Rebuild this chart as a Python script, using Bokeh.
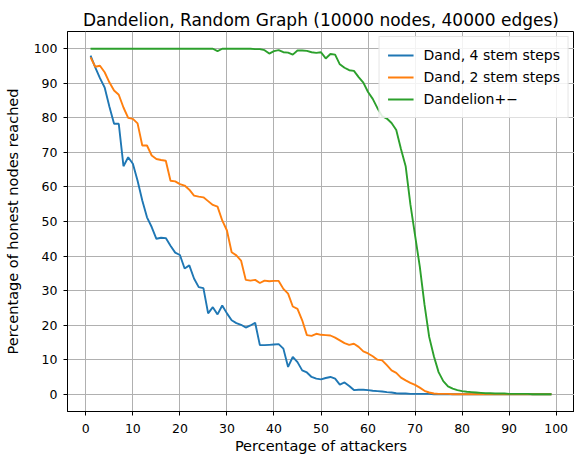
from bokeh.plotting import figure
from bokeh.embed import file_html
from bokeh.resources import INLINE
from bokeh.models import FixedTicker, Legend, LegendItem, ColumnDataSource

attackers = list(range(1, 100))

dand4 = [98.0, 94.6, 91.5, 88.8, 83.3, 78.3, 78.3, 66.0, 68.6, 66.7,
         61.8, 56.1, 51.2, 48.4, 45.0, 45.3, 45.2, 43.0, 41.0, 40.3,
         36.4, 37.3, 33.5, 31.0, 30.7, 23.4, 25.2, 23.1, 25.7, 23.4,
         21.4, 20.6, 20.1, 19.3, 19.9, 20.7, 14.2, 14.2, 14.3, 14.4,
         14.5, 13.2, 7.9, 10.8, 9.3, 6.9, 6.3, 5.0, 4.5, 4.3,
         4.7, 5.0, 4.5, 2.8, 3.4, 2.4, 1.2, 1.3, 1.3, 1.2,
         1.0, 0.9, 0.8, 0.6, 0.5, 0.3, 0.2, 0.2, 0.1, 0.1,
         0.1, 0.1, 0.1, 0.0, 0.0, 0.0, 0.0, 0.0, 0.0, 0.0,
         0.0, 0.0, 0.0, 0.0, 0.0, 0.0, 0.0, 0.0, 0.0, 0.0,
         0.0, 0.0, 0.0, 0.0, 0.0, 0.0, 0.0, 0.0, 0.0]

dand2 = [97.5, 94.8, 95.1, 93.2, 90.3, 87.9, 86.7, 83.0, 80.0, 79.7,
         78.4, 72.0, 72.0, 69.1, 68.1, 67.8, 67.6, 61.8, 61.6, 60.8,
         60.4, 59.2, 57.5, 57.2, 57.0, 55.9, 54.8, 54.3, 50.3, 47.4,
         41.1, 40.2, 38.7, 33.1, 32.9, 33.1, 32.2, 32.9, 32.7, 32.8,
         32.8, 30.5, 29.1, 25.4, 24.7, 21.4, 17.1, 16.9, 17.5, 17.2,
         17.1, 17.0, 16.4, 15.6, 14.8, 14.3, 14.6, 13.7, 12.4, 11.8,
         11.0, 10.0, 9.8, 8.4, 6.9, 6.2, 4.8, 4.0, 3.3, 2.7,
         1.9, 1.0, 0.5, 0.2, 0.1, 0.1, 0.1, 0.0, 0.0, 0.0,
         0.0, 0.0, 0.0, 0.0, 0.0, 0.0, 0.0, 0.0, 0.0, 0.0,
         0.0, 0.0, 0.0, 0.0, 0.0, 0.0, 0.0, 0.0, 0.0]

dandplus = [100.0, 100.0, 100.0, 100.0, 100.0, 100.0, 100.0, 100.0, 100.0, 100.0,
            100.0, 100.0, 100.0, 100.0, 100.0, 100.0, 100.0, 100.0, 100.0, 100.0,
            100.0, 100.0, 100.0, 100.0, 100.0, 100.0, 100.0, 99.3, 100.0, 100.0,
            100.0, 100.0, 100.0, 100.0, 100.0, 99.9, 99.9, 99.6, 98.6, 99.3,
            99.6, 99.0, 98.9, 98.3, 99.5, 99.5, 99.4, 99.0, 98.8, 99.0,
            97.2, 98.5, 98.3, 95.5, 94.5, 93.8, 93.6, 91.8, 90.2, 87.5,
            85.5, 82.8, 80.5, 79.8, 78.5, 76.5, 71.0, 66.0, 55.0, 46.0,
            37.0, 26.0, 16.6, 11.0, 6.4, 3.8, 2.3, 1.6, 1.2, 0.9,
            0.7, 0.6, 0.5, 0.4, 0.3, 0.3, 0.2, 0.2, 0.2, 0.1,
            0.1, 0.1, 0.1, 0.1, 0.0, 0.0, 0.0, 0.0, 0.0]

series_labels = ["Dand, 4 stem steps", "Dand, 2 stem steps", "Dandelion+\u2212"]
series_colors = ["#1f77b4", "#ff7f0e", "#2ca02c"]
x_ticks = list(range(0, 101, 10))
y_ticks = list(range(0, 101, 10))

FONT = "DejaVu Sans"

p = figure(width=574, height=459, x_range=(-3.9, 103.9), y_range=(-5, 105),
           output_backend="svg", toolbar_location=None,
           title="Dandelion, Random Graph (10000 nodes, 40000 edges)")
p.min_border_left = 67
p.min_border_right = 0
p.min_border_top = 31
p.min_border_bottom = 48

p.title.text_font = FONT
p.title.text_font_size = "17px"
p.title.text_font_style = "normal"
p.title.align = "center"
p.title.text_color = "black"
p.title.standoff = 4

p.outline_line_color = "black"
p.outline_line_width = 1
p.outline_line_alpha = 1
p.background_fill_color = "white"
p.border_fill_color = "white"

for ax in (p.xaxis, p.yaxis):
    ax.axis_line_color = "black"
    ax.major_tick_line_color = "black"
    ax.major_tick_out = 4
    ax.major_tick_in = 0
    ax.minor_tick_line_color = None
    ax.major_label_text_font = FONT
    ax.major_label_text_font_size = "12.5px"
    ax.major_label_text_color = "black"
    ax.axis_label_text_font = FONT
    ax.axis_label_text_font_size = "14.5px"
    ax.axis_label_text_font_style = "normal"
    ax.axis_label_text_color = "black"

p.xaxis.ticker = FixedTicker(ticks=x_ticks)
p.yaxis.ticker = FixedTicker(ticks=y_ticks)
p.xaxis.axis_label = "Percentage of attackers"
p.yaxis.axis_label = "Percentage of honest nodes reached"
p.xaxis.major_label_standoff = 8
p.yaxis.major_label_standoff = 6
p.xaxis.axis_label_standoff = 2
p.yaxis.axis_label_standoff = 10

p.xgrid.ticker = FixedTicker(ticks=x_ticks)
p.ygrid.ticker = FixedTicker(ticks=y_ticks)
p.grid.grid_line_color = "#b0b0b0"
p.grid.grid_line_width = 1

items = []
for vals, lab, col in zip([dand4, dand2, dandplus], series_labels, series_colors):
    src = ColumnDataSource(dict(x=attackers, y=vals))
    r = p.line("x", "y", source=src, line_color=col, line_width=1.9)
    items.append(LegendItem(label=lab, renderers=[r]))

legend = Legend(items=items, location="top_right")
legend.label_text_font = FONT
legend.label_text_font_size = "14px"
legend.label_text_color = "black"
legend.glyph_width = 26
legend.glyph_height = 20
legend.label_height = 20
legend.label_standoff = 10
legend.spacing = 2
legend.padding = 8
legend.margin = 5
legend.border_line_color = "#cccccc"
legend.border_line_width = 1
legend.background_fill_alpha = 0.85
p.add_layout(legend)

open("out.html", "w").write(file_html(p, INLINE))
